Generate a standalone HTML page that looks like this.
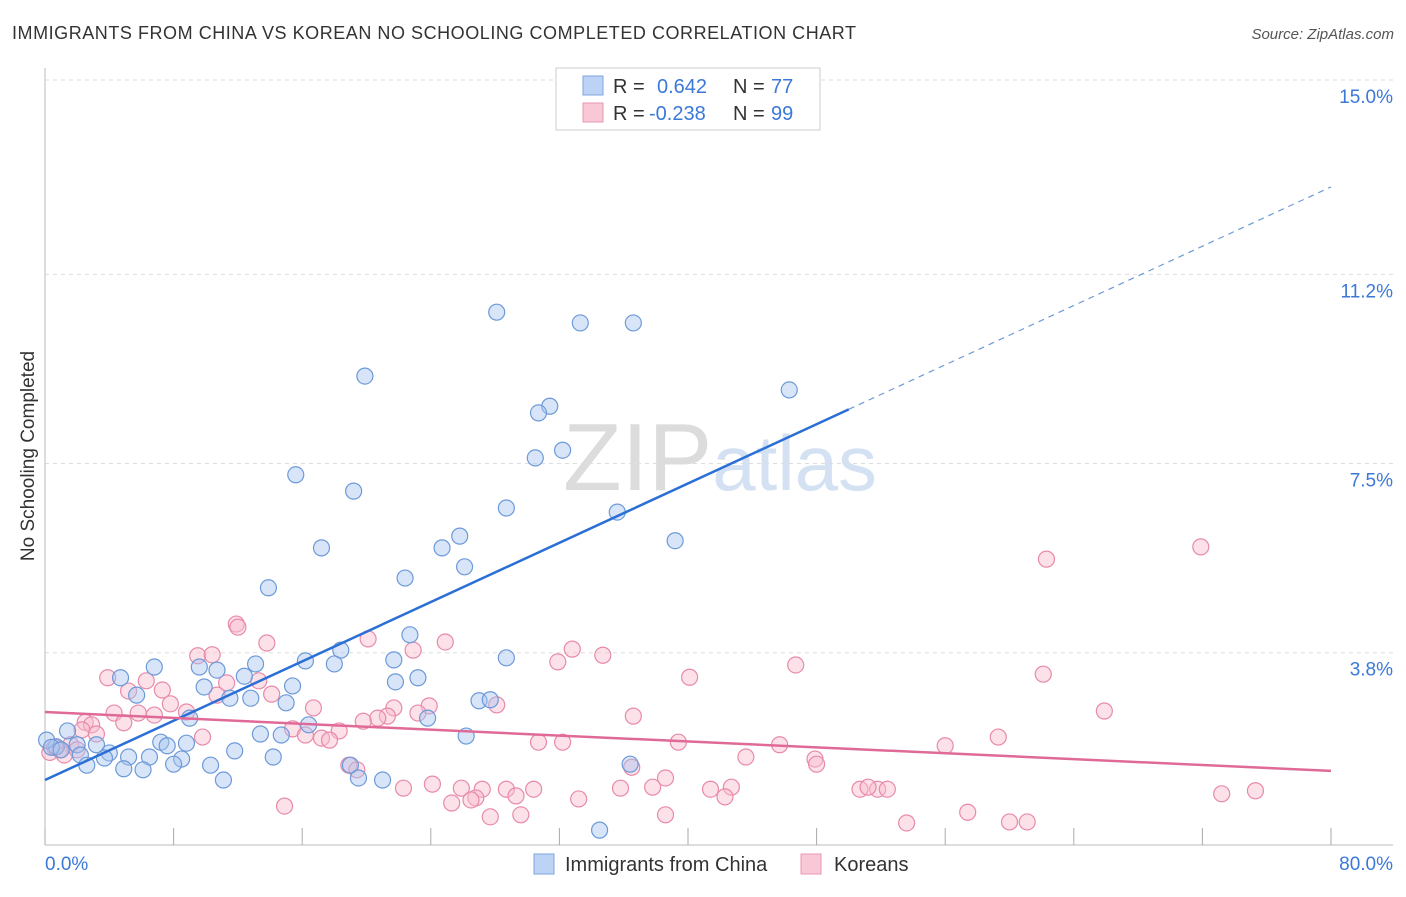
<!DOCTYPE html>
<html><head><meta charset="utf-8"><style>
body{margin:0;background:#fff;font-family:"Liberation Sans",sans-serif;}
svg text{font-family:"Liberation Sans",sans-serif;}
</style></head><body>
<svg id="chart" width="1406" height="892" viewBox="0 0 1406 892">
<text x="12" y="39" font-size="18" fill="#333" textLength="844" lengthAdjust="spacing">IMMIGRANTS FROM CHINA VS KOREAN NO SCHOOLING COMPLETED CORRELATION CHART</text>
<text x="1394" y="39" font-size="15" fill="#555" font-style="italic" text-anchor="end">Source: ZipAtlas.com</text>
<text x="34" y="456" font-size="19" fill="#333" text-anchor="middle" transform="rotate(-90 34 456)">No Schooling Completed</text>
<text x="720" y="490" font-size="96" fill="#e4e4e4" text-anchor="middle" font-family="Liberation Serif"><tspan fill="#dcdcdc">ZIP</tspan><tspan fill="#d3e1f3" font-family="Liberation Sans" font-size="78">atlas</tspan></text>
<g id="grid"></g><g id="axes"></g><g id="pts"></g><g id="lines"></g>
<g>
<rect x="556" y="68" width="264" height="62" fill="#fff" stroke="#ccc"/>
<rect x="583" y="76" width="20" height="19" fill="#bcd3f5" stroke="#7ea6e0"/>
<rect x="583" y="103" width="20" height="19" fill="#f8c8d6" stroke="#e897b1"/>
<text x="613" y="93" font-size="20" fill="#333">R =</text><text x="657" y="93" font-size="20" fill="#3b78d8">0.642</text>
<text x="733" y="93" font-size="20" fill="#333">N =</text><text x="771" y="93" font-size="20" fill="#3b78d8">77</text>
<text x="613" y="120" font-size="20" fill="#333">R =</text><text x="649" y="120" font-size="20" fill="#3b78d8">-0.238</text>
<text x="733" y="120" font-size="20" fill="#333">N =</text><text x="771" y="120" font-size="20" fill="#3b78d8">99</text>
</g>
<g>
<rect x="534" y="854" width="20" height="20" fill="#bcd3f5" stroke="#7ea6e0"/>
<text x="565" y="871" font-size="20" fill="#333">Immigrants from China</text>
<rect x="801" y="854" width="20" height="20" fill="#f8c8d6" stroke="#e897b1"/>
<text x="834" y="871" font-size="20" fill="#333">Koreans</text>
</g>
</svg>
<script>
const yTicks=[3.8,7.5,11.2,15.0];
const yTickLabels=["3.8%","7.5%","11.2%","15.0%"];
const xTickVals=[0,8,16,24,32,40,48,56,64,72,80];
const xEndLabels=["0.0%","80.0%"];
const chinaX=[28.1,33.3,36.6,19.9,46.3,31.4,30.7,32.2,30.5,15.6,19.2,28.7,35.6,25.8,24.7,17.2,39.2,26.1,22.4,13.9,22.7,18.4,28.7,21.7,16.2,18.0,13.1,6.8,9.6,10.7,4.7,23.2,21.8,12.4,15.4,9.9,5.7,11.5,12.8,27.0,27.7,15.0,23.8,9.0,16.4,1.4,13.4,14.7,26.2,7.2,8.8,7.6,3.2,2.0,0.7,0.1,11.8,4.0,2.2,5.2,6.5,3.7,14.2,8.5,2.6,8.0,10.3,19.0,36.4,4.9,6.1,19.5,21.0,11.1,34.5,0.4,1.0];
const chinaY=[10.46,10.25,10.25,9.21,8.94,8.62,8.49,7.76,7.61,7.28,6.96,6.63,6.55,6.08,5.85,5.85,5.99,5.48,5.26,5.07,4.15,3.85,3.70,3.66,3.64,3.58,3.58,3.52,3.52,3.46,3.31,3.31,3.23,3.34,3.15,3.13,2.97,2.91,2.91,2.86,2.88,2.82,2.52,2.52,2.39,2.27,2.21,2.19,2.17,2.05,2.03,1.98,2.00,2.00,1.96,2.09,1.88,1.84,1.80,1.76,1.76,1.74,1.76,1.72,1.60,1.62,1.60,1.60,1.62,1.53,1.51,1.35,1.31,1.31,0.33,1.95,1.9];
const koreaX=[62.3,71.9,11.9,13.8,20.1,24.9,32.8,22.9,34.7,31.9,9.5,10.4,46.7,62.1,40.1,3.9,6.3,13.3,11.3,5.2,7.3,10.7,14.1,23.9,28.1,16.7,7.8,8.8,21.7,65.9,4.3,5.8,6.8,23.2,21.3,36.6,20.7,19.8,2.5,2.9,4.9,2.3,15.4,16.2,17.2,18.3,3.2,9.8,17.7,59.3,30.7,32.2,39.4,45.7,56.0,1.6,0.9,43.6,47.9,48.0,18.9,36.5,19.4,38.6,75.3,73.2,50.7,51.8,51.2,52.4,42.7,41.4,37.8,35.8,30.4,28.7,27.2,25.9,24.1,22.3,26.8,29.3,26.5,25.3,42.3,33.2,14.9,57.4,27.7,29.6,38.6,53.6,60.0,61.1,0.3,0.6,1.2,12.0,2.0];
const koreaY=[5.63,5.87,4.36,3.99,4.07,4.01,3.87,3.85,3.75,3.62,3.74,3.76,3.56,3.38,3.32,3.31,3.25,3.25,3.21,3.05,3.07,2.97,2.99,2.76,2.78,2.72,2.80,2.64,2.72,2.66,2.62,2.62,2.58,2.62,2.56,2.56,2.52,2.46,2.44,2.39,2.43,2.29,2.31,2.19,2.13,2.27,2.21,2.15,2.09,2.15,2.05,2.05,2.05,2.00,1.98,2.00,1.90,1.76,1.72,1.62,1.60,1.56,1.51,1.35,1.10,1.04,1.13,1.13,1.17,1.13,1.17,1.13,1.17,1.15,1.13,1.13,1.13,1.15,1.23,1.15,0.96,1.00,0.92,0.86,0.98,0.94,0.80,0.68,0.59,0.63,0.63,0.47,0.49,0.49,1.85,1.95,1.80,4.3,1.9];
const chinaFit=[1.31,0.145];
const koreaFit=[2.64,-0.0144];
const NS="http://www.w3.org/2000/svg";
const X=v=>45+v/80*1286;
const Y=v=>847-v*51.13;
function mk(tag,attrs,parent){const e=document.createElementNS(NS,tag);for(const k in attrs)e.setAttribute(k,attrs[k]);parent.appendChild(e);return e;}
const grid=document.getElementById('grid'),axes=document.getElementById('axes'),pts=document.getElementById('pts'),lines=document.getElementById('lines');
yTicks.forEach((t,i)=>{
 const l=mk('line',{x1:45,x2:1393,y1:Y(t),y2:Y(t),stroke:'#ddd','stroke-dasharray':'4 4'},grid);
 
 
 const tx=mk('text',{x:1393,y:Y(t)+23,'font-size':19,fill:'#3b78d8','text-anchor':'end'},axes);
 tx.textContent=yTickLabels[i];
 
 
});
const ax=mk('line',{x1:45,x2:45,y1:68,y2:845,stroke:'#bbb'},axes);


const bx=mk('line',{x1:45,x2:1393,y1:845,y2:845,stroke:'#bbb'},axes);


xTickVals.forEach(v=>{
 const t=mk('line',{x1:X(v),x2:X(v),y1:828,y2:845,stroke:'#aaa'},axes);
 
 
});
const l0=mk('text',{x:45,y:870,'font-size':19,fill:'#3b78d8'},axes);l0.textContent=xEndLabels[0];


const l1=mk('text',{x:1393,y:870,'font-size':19,fill:'#3b78d8','text-anchor':'end'},axes);l1.textContent=xEndLabels[1];


function dots(xs,ys,fill,stroke,name){xs.forEach((x,i)=>{
 const c=mk('circle',{cx:X(x),cy:Y(ys[i]),r:8,fill:fill,'fill-opacity':0.45,stroke:stroke,'stroke-width':1.2},pts);
 
 
});}
dots(koreaX,koreaY,'#f8bccf','#e88aaa','korean-point');
dots(chinaX,chinaY,'#a9c6ef','#6c9ad9','china-point');
const b1=mk('line',{x1:X(0),y1:Y(chinaFit[0]),x2:X(50),y2:Y(chinaFit[0]+chinaFit[1]*50),stroke:'#2a6fd6','stroke-width':2.5},lines);


const b2=mk('line',{x1:X(50),y1:Y(chinaFit[0]+chinaFit[1]*50),x2:X(80),y2:Y(chinaFit[0]+chinaFit[1]*80),stroke:'#6c9ad9','stroke-width':1.2,'stroke-dasharray':'6 5'},lines);


const p1=mk('line',{x1:X(0),y1:Y(koreaFit[0]),x2:X(80),y2:Y(koreaFit[0]+koreaFit[1]*80),stroke:'#e06a97','stroke-width':2.5},lines);


</script>
</body></html>
